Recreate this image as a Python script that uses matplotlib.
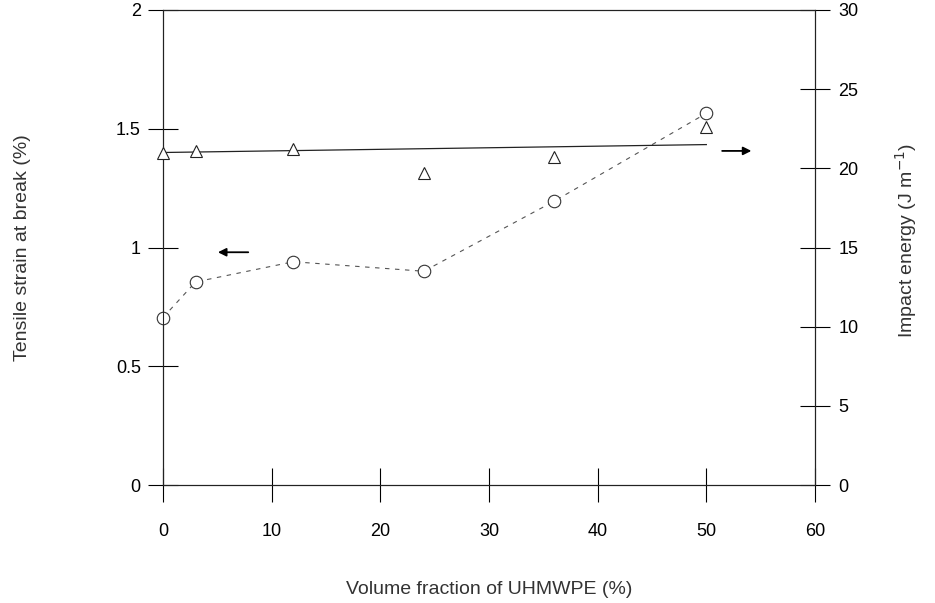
"""Tensile strain and impact energy vs UHMWPE volume fraction."""

import matplotlib

matplotlib.use("Agg")
import matplotlib.pyplot as plt

plt.rcParams["font.family"] = ["Liberation Sans", "DejaVu Sans"]

# volume fraction of UHMWPE (%)
fraction = [0, 3, 12, 24, 36, 50]
# tensile strain at break (%), left axis, open circles
strain = [0.705, 0.855, 0.94, 0.90, 1.195, 1.565]
# impact energy (J m^-1), right axis, open triangles
impact = [21.0, 21.1, 21.2, 19.7, 20.7, 22.6]
# straight trend line through the impact data
trend_x = [0, 50]
trend_y = [21.0, 21.5]

x_ticks = [0, 10, 20, 30, 40, 50, 60]
left_ticks = [0, 0.5, 1, 1.5, 2]
left_labels = ["0", "0.5", "1", "1.5", "2"]
right_ticks = [0, 5, 10, 15, 20, 25, 30]

fig = plt.figure(figsize=(9.35, 6.03), dpi=100)
ax = fig.add_axes([163 / 935, 118 / 603, 652 / 935, 475 / 603])
ax2 = ax.twinx()

ax.plot(fraction, strain, linestyle=(0, (4, 5)), color="#555555", linewidth=0.8,
        marker="o", markersize=9, markerfacecolor="white",
        markeredgecolor="#333333", markeredgewidth=0.8, zorder=3,
        clip_on=False)
ax2.plot(trend_x, trend_y, color="#222222", linewidth=0.9, zorder=2)
ax2.plot(fraction, impact, linestyle="none", marker="^", markersize=9,
         markerfacecolor="white", markeredgecolor="#222222",
         markeredgewidth=0.8, zorder=3, clip_on=False)

# arrows pointing to the axis each series belongs to
ax.annotate("", xy=(4.8, 0.98), xytext=(8.1, 0.98),
            arrowprops=dict(arrowstyle="-|>", color="black", lw=1.3,
                            mutation_scale=12))
ax2.annotate("", xy=(54.4, 21.1), xytext=(51.2, 21.1),
             arrowprops=dict(arrowstyle="-|>", color="black", lw=1.3,
                             mutation_scale=12))

ax.set_xlim(0, 60)
ax.set_ylim(0, 2)
ax2.set_ylim(0, 30)

ax.set_xticks(x_ticks)
ax.set_yticks(left_ticks)
ax.set_yticklabels(left_labels)
ax2.set_yticks(right_ticks)

for a in (ax, ax2):
    for spine in a.spines.values():
        spine.set_linewidth(0.8)
        spine.set_color("#222222")

ax.tick_params(axis="x", direction="inout", length=24, width=0.8,
               labelsize=13, pad=15, top=False)
ax.tick_params(axis="y", direction="inout", length=22, width=0.8,
               labelsize=13, pad=5)
ax2.tick_params(axis="y", direction="inout", length=22, width=0.8,
                labelsize=13, pad=6)

ax.set_xlabel("Volume fraction of UHMWPE (%)", fontsize=14, color="#333333",
              va="center")
ax.xaxis.set_label_coords(0.5, (485 - 590) / 475)
ax.set_ylabel("Tensile strain at break (%)", fontsize=14, color="#333333",
              va="center")
ax.yaxis.set_label_coords((22 - 163) / 652, 0.5)
ax2.set_ylabel("Impact energy (J m$^{-1}$)", fontsize=14, color="#333333",
               va="center")
ax2.yaxis.set_label_coords((906 - 163) / 652, (485 - 240) / 475)

fig.savefig("out.png", dpi=100)
